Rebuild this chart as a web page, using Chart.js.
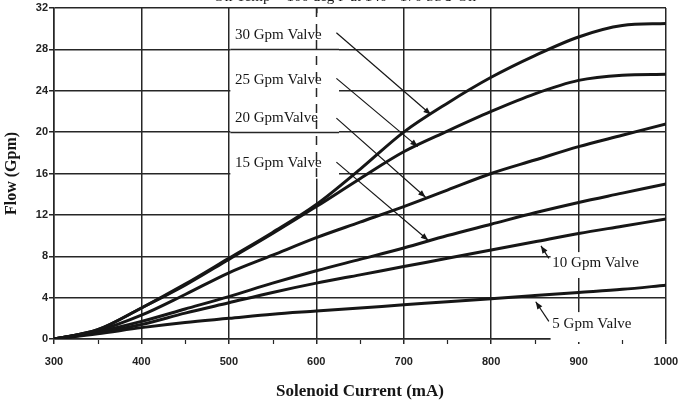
<!DOCTYPE html>
<html>
<head>
<meta charset="utf-8">
<script src="https://cdn.jsdelivr.net/npm/chart.js@4/dist/chart.umd.min.js"></script>
<style>
body { margin: 0; background: #fff; }
#wrap { width: 680px; height: 404px; }
</style>
</head>
<body>
<div id="wrap"><canvas id="flowChart" width="680" height="404"></canvas></div>
<script>
// solenoid current (mA)
const current = [300, 350, 400, 450, 500, 550, 600, 650, 700, 750, 800, 850, 900, 950, 1000];
// flow (Gpm)
const flow30 = [0, 0.9, 3.0, 5.3, 7.8, 10.3, 13.0, 16.4, 20.0, 22.8, 25.3, 27.4, 29.2, 30.3, 30.5];
const flow25 = [0, 0.9, 3.0, 5.2, 7.7, 10.2, 12.8, 15.5, 18.1, 20.1, 22.0, 23.7, 25.0, 25.5, 25.6];
const flow20 = [0, 0.8, 2.3, 4.3, 6.4, 8.1, 9.8, 11.3, 12.8, 14.4, 16.0, 17.3, 18.6, 19.7, 20.8];
const flow15 = [0, 0.7, 1.7, 2.9, 4.1, 5.4, 6.6, 7.7, 8.8, 10.0, 11.1, 12.2, 13.2, 14.1, 15.0];
const flow10 = [0, 0.6, 1.4, 2.5, 3.5, 4.5, 5.4, 6.2, 7.0, 7.8, 8.6, 9.4, 10.2, 10.9, 11.6];
const flow5 = [0, 0.5, 1.1, 1.6, 2.0, 2.4, 2.7, 3.0, 3.3, 3.6, 3.9, 4.2, 4.5, 4.8, 5.2];

const seriesNames = ['30 Gpm Valve', '25 Gpm Valve', '20 Gpm Valve', '15 Gpm Valve', '10 Gpm Valve', '5 Gpm Valve'];
const seriesFlows = [flow30, flow25, flow20, flow15, flow10, flow5];

// axis ticks
const xTicks = [300, 400, 500, 600, 700, 800, 900, 1000];
const xMinorTicks = [350, 450, 550, 650, 750, 850, 950];
const yTicks = [0, 4, 8, 12, 16, 20, 24, 28, 32];

const topNote = 'Oil Temp = 100 deg F at 140 - 170 SSU Oil';
const xTitle = 'Solenoid Current (mA)';
const yTitle = 'Flow (Gpm)';

// callout labels, anchored in data units (mA, Gpm)
const callouts = [
  { text: '30 Gpm Valve', at: [507, 29.4], from: [623, 29.6], to: [731, 21.7] },
  { text: '25 Gpm Valve', at: [507, 25.0], from: [623, 25.2], to: [716, 18.6] },
  { text: '20 GpmValve',  at: [507, 21.35], from: [623, 21.35], to: [725, 13.7] },
  { text: '15 Gpm Valve', at: [507, 17.0], from: [623, 17.1], to: [728, 9.55] },
  { text: '10 Gpm Valve', at: [870, 7.35], from: [866, 7.8], to: [857, 9.0] },
  { text: '5 Gpm Valve',  at: [870, 1.45], from: [866, 1.7], to: [851, 3.6] }
];

const ink = '#161616';
const gridColor = '#262626';
const serif = "'Liberation Serif', 'DejaVu Serif', serif";
const sans = "'Liberation Sans', Arial, sans-serif";

// white label boxes that hide the grid behind the callouts
const patchPlugin = {
  id: 'patches',
  beforeDatasetsDraw(chart) {
    const { ctx, scales: { x, y } } = chart;
    ctx.save();
    ctx.fillStyle = '#fff';
    // upper label block
    let l = x.getPixelForValue(500) + 1.5, r = x.getPixelForValue(626);
    let t = y.getPixelForValue(31.5), b = y.getPixelForValue(15.5);
    ctx.fillRect(l, t, r - l, b - t);
    ctx.strokeStyle = gridColor;
    ctx.lineWidth = 1.5;
    [28, 20].forEach(v => {
      const py = Math.round(y.getPixelForValue(v)) + 0.5;
      ctx.beginPath(); ctx.moveTo(l, py); ctx.lineTo(r, py); ctx.stroke();
    });
    const px = Math.round(x.getPixelForValue(600)) + 0.5;
    ctx.setLineDash([9, 7]);
    ctx.beginPath(); ctx.moveTo(px, y.getPixelForValue(32)); ctx.lineTo(px, b); ctx.stroke();
    ctx.setLineDash([]);
    // lower right labels
    l = x.getPixelForValue(868); r = x.getPixelForValue(1000) - 1;
    t = y.getPixelForValue(8.4); b = y.getPixelForValue(5.9);
    ctx.fillRect(l, t, r - l, b - t);
    t = y.getPixelForValue(2.6); b = y.getPixelForValue(0) + 3;
    ctx.fillRect(l, t, r - l, b - t);
    ctx.restore();
  },
  afterDatasetsDraw(chart) {
    const { ctx, scales: { x, y } } = chart;
    ctx.save();
    // minor ticks under the x axis
    ctx.strokeStyle = gridColor;
    ctx.lineWidth = 1.2;
    const y0 = y.getPixelForValue(0);
    xMinorTicks.forEach(v => {
      const px = Math.round(x.getPixelForValue(v)) + 0.5;
      ctx.beginPath(); ctx.moveTo(px, y0 + 1); ctx.lineTo(px, y0 + 5); ctx.stroke();
    });
    // callouts
    ctx.font = '15px ' + serif;
    ctx.fillStyle = ink;
    ctx.textBaseline = 'middle';
    ctx.textAlign = 'left';
    callouts.forEach(c => {
      ctx.fillText(c.text, x.getPixelForValue(c.at[0]), y.getPixelForValue(c.at[1]));
      const x1 = x.getPixelForValue(c.from[0]), y1 = y.getPixelForValue(c.from[1]);
      const x2 = x.getPixelForValue(c.to[0]), y2 = y.getPixelForValue(c.to[1]);
      ctx.strokeStyle = ink;
      ctx.lineWidth = 1.2;
      ctx.beginPath(); ctx.moveTo(x1, y1); ctx.lineTo(x2, y2); ctx.stroke();
      const a = Math.atan2(y2 - y1, x2 - x1);
      const len = 8, wing = 0.38;
      ctx.beginPath();
      ctx.moveTo(x2, y2);
      ctx.lineTo(x2 - len * Math.cos(a - wing), y2 - len * Math.sin(a - wing));
      ctx.lineTo(x2 - len * Math.cos(a + wing), y2 - len * Math.sin(a + wing));
      ctx.closePath();
      ctx.fill();
    });
    ctx.restore();
  },
  afterDraw(chart) {
    const { ctx, chartArea } = chart;
    ctx.save();
    ctx.fillStyle = ink;
    ctx.textAlign = 'center';
    // note cut off at the top edge
    ctx.font = '15px ' + serif;
    ctx.textBaseline = 'alphabetic';
    ctx.fillText(topNote, 345, 1);
    // axis titles
    ctx.font = 'bold 17px ' + serif;
    ctx.textBaseline = 'middle';
    ctx.fillText(xTitle, (chartArea.left + chartArea.right) / 2, 392);
    ctx.translate(12, (chartArea.top + chartArea.bottom) / 2);
    ctx.rotate(-Math.PI / 2);
    ctx.font = 'bold 16px ' + serif;
    ctx.fillText(yTitle, 0, 0);
    ctx.restore();
  }
};

const datasets = seriesFlows.map((flows, i) => ({
  label: seriesNames[i],
  data: current.map((mA, j) => ({ x: mA, y: flows[j] })),
  borderColor: ink,
  borderWidth: 3,
  pointRadius: 0,
  fill: false,
  cubicInterpolationMode: 'monotone'
}));

new Chart(document.getElementById('flowChart').getContext('2d'), {
  type: 'line',
  data: { datasets },
  options: {
    responsive: false,
    animation: false,
    events: [],
    layout: { padding: { top: 8, right: 14, left: 0, bottom: 0 } },
    plugins: { legend: { display: false }, tooltip: { enabled: false } },
    scales: {
      x: {
        type: 'linear',
        min: 300,
        max: 1000,
        afterBuildTicks: s => { s.ticks = xTicks.map(v => ({ value: v })); },
        afterFit: s => { s.height = 65; s.paddingLeft = 0; s.paddingRight = 0; },
        grid: { color: gridColor, lineWidth: 1.5, tickLength: 5 },
        border: { color: gridColor, width: 1.5 },
        ticks: {
          font: { family: sans, size: 11, weight: 'bold' },
          color: '#222',
          padding: 11,
          maxRotation: 0,
          autoSkip: false,
          callback: v => String(v)
        }
      },
      y: {
        min: 0,
        max: 32,
        afterBuildTicks: s => { s.ticks = yTicks.map(v => ({ value: v })); },
        afterFit: s => { s.width = 54; s.paddingTop = 0; s.paddingBottom = 0; },
        grid: { color: gridColor, lineWidth: 1.5, tickLength: 5 },
        border: { color: gridColor, width: 1.5 },
        ticks: {
          font: { family: sans, size: 11, weight: 'bold' },
          color: '#222',
          padding: 1
        }
      }
    }
  },
  plugins: [patchPlugin]
});
</script>
</body>
</html>
